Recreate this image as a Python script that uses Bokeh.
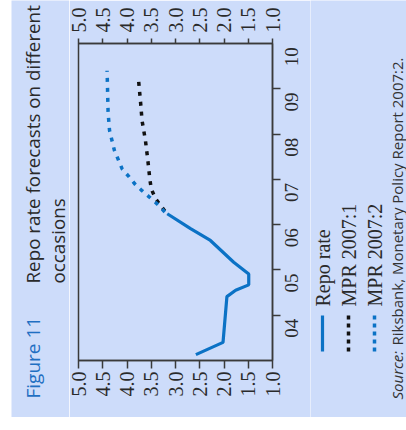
import math
from bokeh.plotting import figure
from bokeh.layouts import row
from bokeh.models import (Range1d, LinearAxis, FixedTicker, PrintfTickFormatter,
                          Label, Spacer)
from bokeh.embed import file_html
from bokeh.resources import INLINE

# ---- data ----
repo_times = [2004.13, 2004.40, 2005.41, 2005.55, 2005.67, 2005.91, 2006.17, 2006.65, 2006.91, 2007.24]
repo_values = [2.58, 2.02, 1.94, 1.76, 1.49, 1.49, 1.80, 2.28, 2.69, 3.17]

mpr1_times = [2007.30, 2007.57, 2007.79, 2008.01, 2008.42, 2008.86, 2009.30, 2009.70, 2010.17]
mpr1_values = [3.22, 3.41, 3.50, 3.53, 3.57, 3.62, 3.69, 3.72, 3.76]

mpr2_times = [2007.28, 2007.46, 2007.62, 2007.75, 2007.90, 2008.06, 2008.23, 2008.64, 2009.08, 2009.48, 2010.40]
mpr2_values = [3.22, 3.38, 3.55, 3.69, 3.84, 3.96, 4.10, 4.26, 4.36, 4.39, 4.41]

value_ticks = [1.0, 1.5, 2.0, 2.5, 3.0, 3.5, 4.0, 4.5, 5.0]
year_labels = ["04", "05", "06", "07", "08", "09", "10"]
year_bounds = [2005, 2006, 2007, 2008, 2009, 2010]

series_names = ["Repo rate", "MPR 2007:1", "MPR 2007:2"]

BG = "#cddcfa"
BLUE = "#0b72c5"
BLACK = "#111111"
DARK = "#2a2a2a"
AXC = "#3a3a3a"
SERIF = "Liberation Serif"
SANS = "Open Sans"

H = 417
X0 = 11                  # left edge of the blue panel
TW = 58                  # title strip width
CW = 241                 # chart width
RW = 406 - X0 - TW - CW  # right strip width
CX = X0 + TW             # chart left edge (page px)
RX = CX + CW             # right strip left edge (page px)

# ---------------- chart ----------------
FL, FR, FT, FB = 78 - CX, 272 - CX, 43, 360
p = figure(width=CW, height=H, output_backend="svg", toolbar_location=None,
           title=None, frame_align=False,
           x_range=Range1d(5.0, 1.0), y_range=Range1d(2004.0, 2011.0),
           x_axis_location=None, y_axis_location=None,
           min_border_left=FL, min_border_right=CW - FR,
           min_border_top=FT, min_border_bottom=H - FB)
p.background_fill_color = BG
p.border_fill_color = BG
p.outline_line_color = AXC
p.outline_line_width = 1.5
p.grid.visible = False

def style_value_axis(ax, tick_out, standoff):
    ax.ticker = FixedTicker(ticks=value_ticks, minor_ticks=[])
    ax.formatter = PrintfTickFormatter(format="%.1f")
    ax.major_label_orientation = math.pi / 2
    ax.major_label_text_font = SERIF
    ax.major_label_text_font_size = "20px"
    ax.major_label_text_color = DARK
    ax.major_tick_out = tick_out
    ax.major_tick_in = 0
    ax.minor_tick_out = 0
    ax.minor_tick_in = 0
    ax.major_tick_line_color = AXC
    ax.major_tick_line_width = 1.5
    ax.axis_line_color = AXC
    ax.axis_line_width = 1.5
    ax.major_label_standoff = standoff

ax_b = LinearAxis()
style_value_axis(ax_b, 8, 3)
p.add_layout(ax_b, "below")
ax_t = LinearAxis()
style_value_axis(ax_t, 5, 6)
p.add_layout(ax_t, "above")

mids = [2004.5 + i for i in range(len(year_labels))]
ax_r = LinearAxis()
ax_r.ticker = FixedTicker(ticks=mids, minor_ticks=year_bounds)
ax_r.major_label_overrides = {m: s for m, s in zip(mids, year_labels)}
ax_r.major_label_orientation = math.pi / 2
ax_r.major_label_text_font = SERIF
ax_r.major_label_text_font_size = "19px"
ax_r.major_label_text_color = DARK
ax_r.major_tick_out = 0
ax_r.major_tick_in = 0
ax_r.minor_tick_out = 8
ax_r.minor_tick_in = 0
ax_r.minor_tick_line_color = AXC
ax_r.minor_tick_line_width = 1.5
ax_r.axis_line_color = AXC
ax_r.axis_line_width = 1.5
ax_r.major_label_standoff = 11
p.add_layout(ax_r, "right")

p.line(repo_values, repo_times, line_color=BLUE, line_width=3.2)
p.line(mpr1_values, mpr1_times, line_color=BLACK, line_width=3.5,
       line_dash="4 6", line_cap="butt")
p.line(mpr2_values, mpr2_times, line_color=BLUE, line_width=3.5,
       line_dash="4 6", line_cap="butt")


def strip(width):
    f = figure(width=width, height=H, output_backend="svg", toolbar_location=None,
               title=None, frame_align=False,
               x_range=Range1d(0, width), y_range=Range1d(0, H),
               x_axis_location=None, y_axis_location=None,
               min_border=0, min_border_top=0, min_border_bottom=0,
               min_border_left=0, min_border_right=0)
    f.background_fill_color = BG
    f.border_fill_color = BG
    f.outline_line_color = None
    f.grid.visible = False
    return f


def rlabel(f, left, ix, iy, text, font, size, color, style="normal"):
    f.add_layout(Label(x=ix - left, y=H - iy, text=text, angle=math.pi / 2,
                       text_align="left", text_baseline="middle",
                       text_font=font, text_font_size=size,
                       text_color=color, text_font_style=style))

# ---------------- title strip ----------------
t = strip(TW)
rlabel(t, X0, 32, 398, "Figure 11", SANS, "19px", "#1f6fc2")
rlabel(t, X0, 32, 283, "Repo rate forecasts on different", SANS, "18.8px", DARK)
rlabel(t, X0, 57, 283, "occasions", SANS, "18.8px", DARK)

# ---------------- legend + source strip ----------------
r = strip(RW)
styles = [(BLUE, None, 3.2), (BLACK, "4 4", 3.5), (BLUE, "4 4", 3.5)]
for i, (name, (col, dash, lw)) in enumerate(zip(series_names, styles)):
    lx = 322 + i * 26
    kw = dict(line_color=col, line_width=lw, line_cap="butt")
    if dash:
        kw["line_dash"] = dash
    r.line([lx - RX, lx - RX], [H - 351, H - 315], **kw)
    rlabel(r, RX, lx, 306, name, SERIF, "20px", DARK)

rlabel(r, RX, 396, 399, "Source:", SANS, "15px", "#333333", "italic")
rlabel(r, RX, 396, 345, "Riksbank, Monetary Policy Report 2007:2.", SANS, "15px", "#333333")

layout = row(Spacer(width=X0, height=H), t, p, r)
open("out.html", "w").write(file_html(layout, INLINE))
